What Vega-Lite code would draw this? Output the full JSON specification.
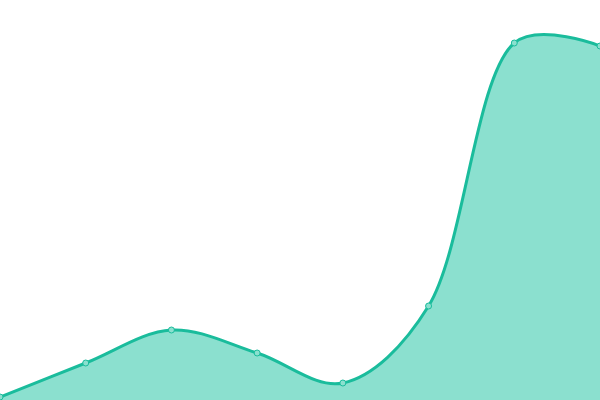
{
  "$schema": "https://vega.github.io/schema/vega-lite/v6.json",
  "width": 600,
  "height": 400,
  "autosize": {"type": "none"},
  "padding": 0,
  "background": "white",
  "config": {"view": {"stroke": null}},
  "data": {
    "values": [
      {"i": 0, "v": 0.75},
      {"i": 1, "v": 9.25},
      {"i": 2, "v": 17.5},
      {"i": 3, "v": 11.75},
      {"i": 4, "v": 4.25},
      {"i": 5, "v": 23.5},
      {"i": 6, "v": 89.25},
      {"i": 7, "v": 88.5}
    ]
  },
  "encoding": {
    "x": {"field": "i", "type": "quantitative", "axis": null, "scale": {"domain": [0, 7], "nice": false}},
    "y": {"field": "v", "type": "quantitative", "axis": null, "scale": {"domain": [0, 100], "nice": false}}
  },
  "layer": [
    {"mark": {"type": "area", "interpolate": "catmull-rom", "tension": 0.4, "color": "#8be0cf", "opacity": 1}},
    {"mark": {"type": "line", "interpolate": "catmull-rom", "tension": 0.4, "color": "#1abc9c", "strokeWidth": 3}},
    {"mark": {"type": "point", "filled": true, "fill": "#8be0cf", "stroke": "#1abc9c", "strokeWidth": 1, "size": 36, "opacity": 1}}
  ]
}
